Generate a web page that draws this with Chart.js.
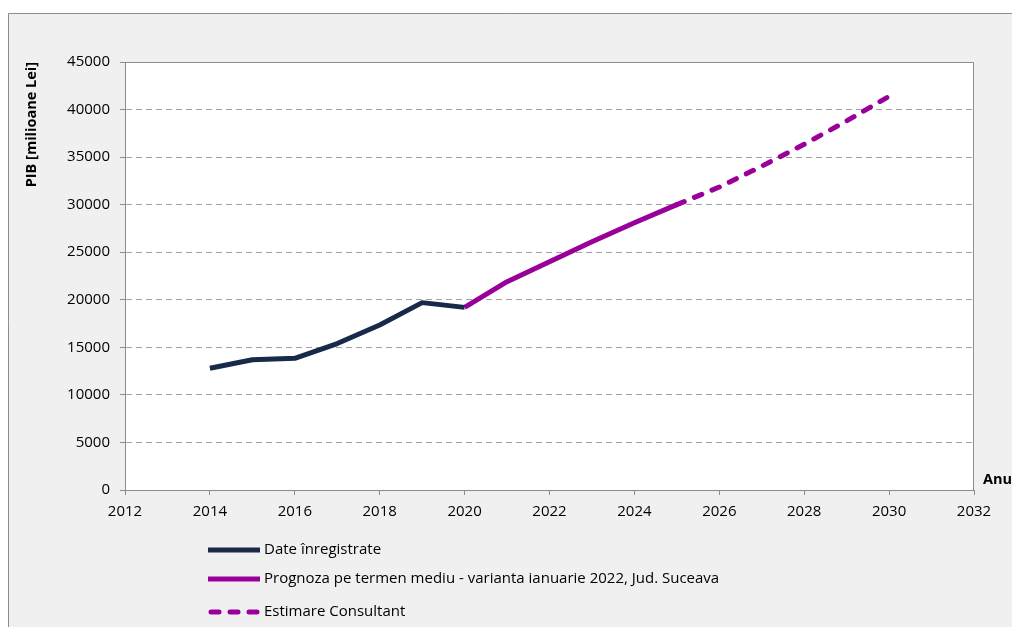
<!DOCTYPE html>
<html lang="ro">
<head>
<meta charset="utf-8">
<title>PIB Jud. Suceava</title>
<script src="https://cdn.jsdelivr.net/npm/chart.js@4.4.1/dist/chart.umd.min.js"></script>
<style>
  html, body { margin: 0; padding: 0; background: #fff; }
  canvas { display: block; }
</style>
</head>
<body>
<canvas id="pib" width="1012" height="627"></canvas>
<script>
// ani si valori PIB (milioane lei)
const aniInregistrati = [2014, 2015, 2016, 2017, 2018, 2019, 2020];
const dateInregistrate = [12800, 13700, 13850, 15400, 17350, 19700, 19200];

const aniPrognoza = [2020, 2021, 2022, 2023, 2024, 2025];
const prognoza = [19200, 21900, 24000, 26100, 28100, 30000];

const aniEstimare = [2025, 2026, 2027, 2028, 2029, 2030];
const estimare = [30000, 31850, 34050, 36350, 38800, 41400];

const etichete = [
  "Date înregistrate",
  "Prognoza pe termen mediu - varianta ianuarie 2022, Jud. Suceava",
  "Estimare Consultant"
];

const FONT = "'Open Sans', 'DejaVu Sans', sans-serif";
const NAVY = "#18294a";
const MOV = "#990099";

const puncte = (ani, valori) => ani.map((an, i) => ({ x: an, y: valori[i] }));

// fundal gri, zona graficului alba cu chenar
const fundal = {
  id: "fundal",
  beforeDraw(chart) {
    const { ctx, chartArea: a } = chart;
    ctx.save();
    ctx.fillStyle = "#f0f0f0";
    ctx.fillRect(8, 13, chart.width, chart.height);
    ctx.strokeStyle = "#8c8c8c";
    ctx.lineWidth = 1;
    ctx.beginPath();
    ctx.moveTo(8.5, chart.height);
    ctx.lineTo(8.5, 13.5);
    ctx.lineTo(chart.width, 13.5);
    ctx.stroke();
    ctx.fillStyle = "#fff";
    ctx.fillRect(a.left, a.top, a.right - a.left, a.bottom - a.top);
    ctx.restore();
  },
  beforeDatasetsDraw(chart) {
    const { ctx, chartArea: a } = chart;
    ctx.save();
    ctx.strokeStyle = "#8c8c8c";
    ctx.lineWidth = 1;
    ctx.beginPath();
    ctx.moveTo(Math.round(a.left) + 0.5, Math.round(a.top) + 0.5);
    ctx.lineTo(Math.round(a.right) - 0.5, Math.round(a.top) + 0.5);
    ctx.lineTo(Math.round(a.right) - 0.5, Math.round(a.bottom));
    ctx.stroke();
    ctx.restore();
  }
};

// legenda verticala sub grafic + titlul axei X ("Anul")
const legenda = {
  id: "legenda",
  afterDraw(chart) {
    const { ctx, chartArea: a } = chart;
    ctx.save();
    ctx.font = "bold 14.5px " + FONT;
    ctx.fillStyle = "#000";
    ctx.textBaseline = "middle";
    ctx.textAlign = "left";
    ctx.fillText("Anul", a.right + 9, a.bottom - 10);

    const x0 = 208, x1 = 260, ys = [550, 579, 612];
    ctx.font = "15px " + FONT;
    chart.data.datasets.forEach((ds, i) => {
      ctx.strokeStyle = ds.borderColor;
      ctx.lineWidth = 5;
      ctx.lineCap = ds.borderDash.length ? "round" : "butt";
      ctx.setLineDash(ds.borderDash);
      ctx.beginPath();
      ctx.moveTo(x0 + (ds.borderDash.length ? 3 : 0), ys[i]);
      ctx.lineTo(x1, ys[i]);
      ctx.stroke();
      ctx.setLineDash([]);
      ctx.fillStyle = "#000";
      ctx.fillText(ds.label, x1 + 4, ys[i]);
    });
    ctx.restore();
  }
};

new Chart(document.getElementById("pib"), {
  type: "line",
  data: {
    datasets: [
      {
        label: etichete[0],
        data: puncte(aniInregistrati, dateInregistrate),
        borderColor: NAVY,
        borderWidth: 5,
        borderDash: [],
        pointRadius: 0,
        borderJoinStyle: "round"
      },
      {
        label: etichete[1],
        data: puncte(aniPrognoza, prognoza),
        borderColor: MOV,
        borderWidth: 5,
        borderDash: [],
        pointRadius: 0,
        borderJoinStyle: "round"
      },
      {
        label: etichete[2],
        data: puncte(aniEstimare, estimare),
        borderColor: MOV,
        borderWidth: 5,
        borderDash: [8, 11],
        borderCapStyle: "round",
        pointRadius: 0
      }
    ]
  },
  options: {
    responsive: false,
    devicePixelRatio: 1,
    animation: false,
    layout: { padding: { top: 62, right: 38, bottom: 97, left: 0 } },
    plugins: {
      legend: { display: false },
      tooltip: { enabled: false }
    },
    scales: {
      x: {
        type: "linear",
        min: 2012,
        max: 2032,
        afterFit(scale) { scale.height = 40; },
        ticks: {
          stepSize: 2,
          padding: 8,
          color: "#000",
          font: { family: FONT, size: 15 },
          callback: (v) => String(v)
        },
        grid: { drawOnChartArea: false, tickLength: 5, tickColor: "#8c8c8c" },
        border: { color: "#8c8c8c", width: 1 }
      },
      y: {
        min: 0,
        max: 45000,
        afterFit(scale) { scale.width = 125; },
        ticks: {
          stepSize: 5000,
          padding: 10,
          color: "#000",
          font: { family: FONT, size: 15 },
          callback: (v) => String(v)
        },
        grid: {
          color: "#a3a3a3",
          tickLength: 5,
          tickColor: "#8c8c8c",
          tickBorderDash: []
        },
        // in v4 border.dash controls the dashing of the grid lines
        border: { color: "#8c8c8c", width: 1, dash: [6, 4] },
        title: {
          display: true,
          text: "PIB [milioane Lei]",
          align: "end",
          color: "#000",
          font: { family: FONT, size: 14.5, weight: "bold" },
          padding: { top: 23, bottom: 0 }
        }
      }
    }
  },
  plugins: [fundal, legenda]
});
</script>
</body>
</html>
